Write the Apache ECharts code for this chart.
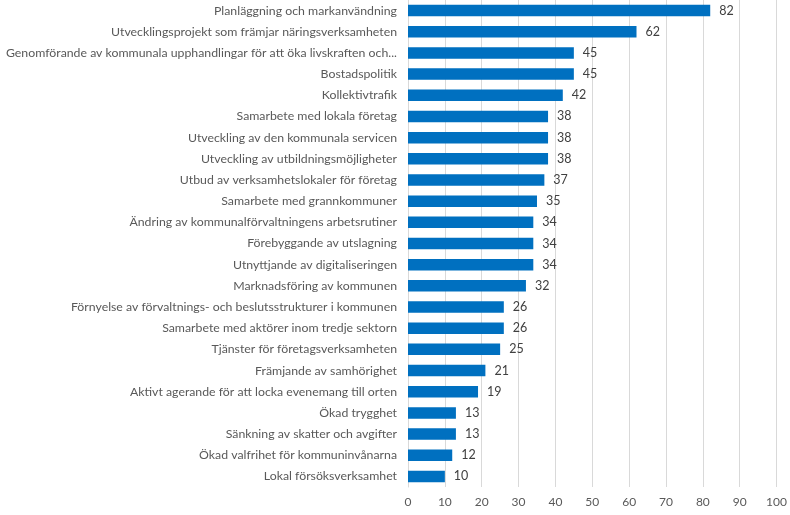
<!DOCTYPE html>
<html><head><meta charset="utf-8">
<script src="https://cdn.jsdelivr.net/npm/echarts@6/dist/echarts.min.js"></script>
<style>html,body{margin:0;padding:0;background:#fff}#c{width:790px;height:515px}</style>
</head><body><div id="c"></div>
<script>
const categories = [
  "Planläggning och markanvändning",
  "Utvecklingsprojekt som främjar näringsverksamheten",
  "Genomförande av kommunala upphandlingar för att öka livskraften och...",
  "Bostadspolitik",
  "Kollektivtrafik",
  "Samarbete med lokala företag",
  "Utveckling av den kommunala servicen",
  "Utveckling av utbildningsmöjligheter",
  "Utbud av verksamhetslokaler för företag",
  "Samarbete med grannkommuner",
  "Ändring av kommunalförvaltningens arbetsrutiner",
  "Förebyggande av utslagning",
  "Utnyttjande av digitaliseringen",
  "Marknadsföring av kommunen",
  "Förnyelse av förvaltnings- och beslutsstrukturer i kommunen",
  "Samarbete med aktörer inom tredje sektorn",
  "Tjänster för företagsverksamheten",
  "Främjande av samhörighet",
  "Aktivt agerande för att locka evenemang till orten",
  "Ökad trygghet",
  "Sänkning av skatter och avgifter",
  "Ökad valfrihet för kommuninvånarna",
  "Lokal försöksverksamhet"
];
const values = [82, 62, 45, 45, 42, 38, 38, 38, 37, 35, 34, 34, 34, 32, 26, 26, 25, 21, 19, 13, 13, 12, 10];
const xTicks = [0, 10, 20, 30, 40, 50, 60, 70, 80, 90, 100];

const font = "Lato, 'Open Sans', sans-serif";
const chart = echarts.init(document.getElementById('c'), null, {renderer: 'canvas'});
chart.setOption({
  animation: false,
  grid: {left: 408, right: 11, top: 0, bottom: 28, containLabel: false},
  xAxis: {
    type: 'value', min: xTicks[0], max: xTicks[xTicks.length - 1], interval: 10,
    axisLine: {show: false}, axisTick: {show: false},
    splitLine: {lineStyle: {color: '#d9d9d9', width: 1}},
    axisLabel: {color: '#595959', fontSize: 12, fontFamily: font, margin: 9}
  },
  yAxis: {
    type: 'category', data: categories, inverse: true,
    axisLine: {lineStyle: {color: '#d9d9d9'}}, axisTick: {show: false},
    axisLabel: {color: '#595959', fontSize: 12.3, fontFamily: font, margin: 11}
  },
  series: [{
    type: 'bar', data: values, barWidth: 11.5,
    itemStyle: {color: '#0070C0'},
    label: {show: true, position: 'right', distance: 9, color: '#404040', fontSize: 12.5, fontFamily: font}
  }]
});
</script></body></html>
